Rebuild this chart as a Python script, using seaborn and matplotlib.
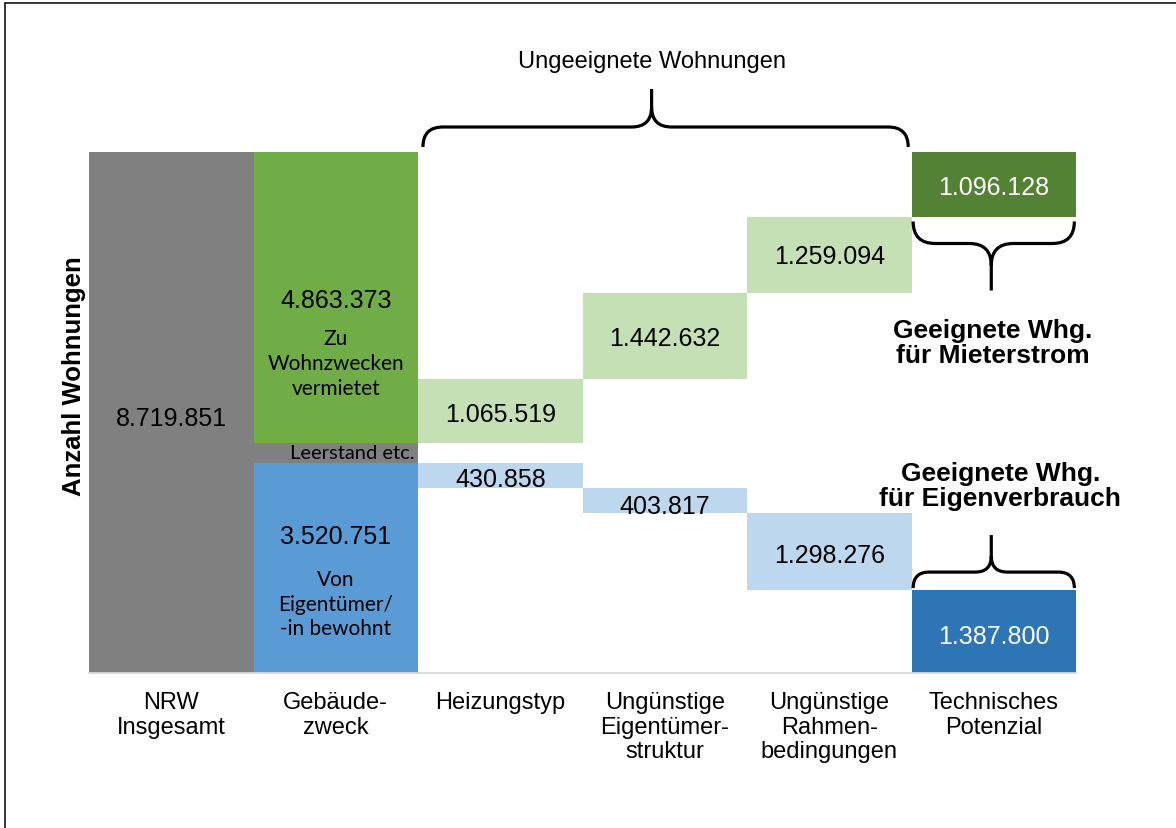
import numpy as np
import matplotlib
matplotlib.use("Agg")
import matplotlib.pyplot as plt
import seaborn as sns
from matplotlib.path import Path
from matplotlib.patches import PathPatch
from matplotlib.lines import Line2D
from matplotlib.transforms import IdentityTransform

CATEGORIES = ["NRW\nInsgesamt", "Gebäude-\nzweck", "Heizungstyp",
              "Ungünstige\nEigentümer-\nstruktur", "Ungünstige\nRahmen-\nbedingungen",
              "Technisches\nPotenzial"]
TOTAL = 8719851
VERMIETET = 4863373
SELBSTGENUTZT = 3520751
UNGEEIGNET_MIETE = [1065519, 1442632, 1259094]
UNGEEIGNET_EIGEN = [430858, 403817, 1298276]
GEEIGNET_MIETE = 1096128
GEEIGNET_EIGEN = 1387800

GRAY = "#808080"
GREEN, LIGHT_GREEN, DARK_GREEN = "#70AD47", "#C5E0B4", "#548235"
BLUE, LIGHT_BLUE, DARK_BLUE = "#5B9BD5", "#BDD7EE", "#2E75B6"


def fmt(v):
    return f"{int(v):,}".replace(",", ".")


sns.set_theme(style="white")
plt.rcParams["font.family"] = ["Liberation Sans", "DejaVu Sans"]
plt.rcParams["text.color"] = "black"
plt.rcParams["axes.labelcolor"] = "black"
plt.rcParams["xtick.color"] = "black"

fig = plt.figure(figsize=(11.76, 8.29), dpi=100)
ax = fig.add_axes([89 / 1176, (829 - 674) / 829, 987 / 1176, 521 / 829])

leerstand = TOTAL - VERMIETET - SELBSTGENUTZT
green_bottoms = (TOTAL - VERMIETET) + np.concatenate([[0], np.cumsum(UNGEEIGNET_MIETE)[:-1]])
blue_tops = SELBSTGENUTZT - np.concatenate([[0], np.cumsum(UNGEEIGNET_EIGEN)[:-1]])

# (category index, bottom, height, colour, label, label colour, label position in bar)
segments = [
    (0, 0, TOTAL, GRAY, fmt(TOTAL), "black", 0.49),
    (1, 0, SELBSTGENUTZT, BLUE, fmt(SELBSTGENUTZT), "black", 0.65),
    (1, SELBSTGENUTZT, leerstand, GRAY, None, None, None),
    (1, TOTAL - VERMIETET, VERMIETET, GREEN, fmt(VERMIETET), "black", 0.49),
]
miete_pos = [0.45, 0.48, 0.49]
eigen_pos = [0.35, 0.25, 0.45]
for i in range(3):
    segments.append((2 + i, green_bottoms[i], UNGEEIGNET_MIETE[i], LIGHT_GREEN,
                     fmt(UNGEEIGNET_MIETE[i]), "black", miete_pos[i]))
    segments.append((2 + i, blue_tops[i] - UNGEEIGNET_EIGEN[i], UNGEEIGNET_EIGEN[i], LIGHT_BLUE,
                     fmt(UNGEEIGNET_EIGEN[i]), "black", eigen_pos[i]))
segments.append((5, TOTAL - GEEIGNET_MIETE, GEEIGNET_MIETE, DARK_GREEN, fmt(GEEIGNET_MIETE), "white", 0.47))
segments.append((5, 0, GEEIGNET_EIGEN, DARK_BLUE, fmt(GEEIGNET_EIGEN), "white", 0.45))

for idx, bottom, height, color, label, tcolor, pos in segments:
    sns.barplot(x=[CATEGORIES[idx]], y=[height], order=CATEGORIES, bottom=bottom, color=color,
                saturation=1, width=1.0, errorbar=None, linewidth=0, ax=ax)
    patch = ax.patches[-1]
    if label:
        t = ax.text(idx, bottom + pos * height, label, ha="center", va="center",
                    fontsize=18, color=tcolor)
        t.set_clip_path(patch)

# small descriptive labels (Calibri-like)
small_font = ["Lato", "DejaVu Sans"]
ax.text(1, TOTAL - VERMIETET + 0.274 * VERMIETET, "Zu\nWohnzwecken\nvermietet", ha="center",
        va="center", fontsize=15, family=small_font, linespacing=1.3)
ax.text(1, 0.33 * SELBSTGENUTZT, "Von\nEigentümer/\n-in bewohnt", ha="center",
        va="center", fontsize=15, family=small_font, linespacing=1.3)
ax.text(1.1, SELBSTGENUTZT + leerstand / 2, "Leerstand etc.", ha="center", va="center",
        fontsize=14.5, family=small_font)

ax.set_xlim(-0.5, 5.5)
ax.set_ylim(0, TOTAL)
ax.set_xticks(range(len(CATEGORIES)))
ax.set_xticklabels(CATEGORIES, fontsize=17, linespacing=1.15)
ax.tick_params(axis="x", length=0, pad=13, colors="black")
ax.set_yticks([])
ax.set_xlabel("")
ax.set_ylabel("Anzahl Wohnungen", fontsize=18.5, fontweight="bold", color="black")
ax.yaxis.set_label_coords(-0.003, 0.572)
sns.despine(ax=ax, left=True)
ax.spines["bottom"].set_color("#D9D9D9")
ax.spines["bottom"].set_linewidth(1.3)


def draw_brace(x_left, x_right, x_tip, y_anchor, gap, radius, length, direction):
    # x and y_anchor in data units, gap/radius/length in pixels; direction +1 points up
    xl, ya = ax.transData.transform((x_left, y_anchor))
    xr = ax.transData.transform((x_right, y_anchor))[0]
    xt = ax.transData.transform((x_tip, y_anchor))[0]
    yb = ya + direction * gap
    yh = yb + direction * radius
    yj = yh + direction * radius
    yt = yb + direction * length
    verts = [(xl, yb), (xl, yh), (xl + radius, yh), (xt - radius, yh), (xt, yh), (xt, yj), (xt, yt),
             (xr, yb), (xr, yh), (xr - radius, yh), (xt + radius, yh), (xt, yh), (xt, yj)]
    codes = [Path.MOVETO, Path.CURVE3, Path.CURVE3, Path.LINETO, Path.CURVE3, Path.CURVE3, Path.LINETO,
             Path.MOVETO, Path.CURVE3, Path.CURVE3, Path.LINETO, Path.CURVE3, Path.CURVE3]
    fig.add_artist(PathPatch(Path(verts, codes), transform=IdentityTransform(), fill=False,
                             lw=2.3, edgecolor="black", capstyle="butt", joinstyle="round"))


draw_brace(1.53, 4.48, 2.92, TOTAL, 5, 20, 58, 1)
draw_brace(4.51, 5.49, 4.985, TOTAL - GEEIGNET_MIETE, 4, 22, 69, -1)
draw_brace(4.51, 5.49, 4.985, GEEIGNET_EIGEN, 2, 16, 53, 1)

ax.annotate("Ungeeignete Wohnungen", xy=(2.92, TOTAL), xytext=(0, 65.5), textcoords="offset points",
            ha="center", va="center", fontsize=17, annotation_clip=False)
ax.annotate("Geeignete Whg.\nfür Mieterstrom", xy=(4.995, TOTAL - GEEIGNET_MIETE), xytext=(0, -90),
            textcoords="offset points", ha="center", va="center", fontsize=19, fontweight="bold",
            linespacing=1.05, annotation_clip=False)
ax.annotate("Geeignete Whg.\nfür Eigenverbrauch", xy=(5.04, GEEIGNET_EIGEN), xytext=(0, 75),
            textcoords="offset points", ha="center", va="center", fontsize=19, fontweight="bold",
            linespacing=1.05, annotation_clip=False)

# frame around the picture (left and top edge visible)
fig.add_artist(Line2D([4.5 / 1176, 4.5 / 1176], [0, 1 - 3.5 / 829], color="black", lw=1.1,
                      transform=fig.transFigure))
fig.add_artist(Line2D([4.5 / 1176, 1], [1 - 3.5 / 829, 1 - 3.5 / 829], color="black", lw=1.1,
                      transform=fig.transFigure))

fig.savefig("out.png", dpi=100)
